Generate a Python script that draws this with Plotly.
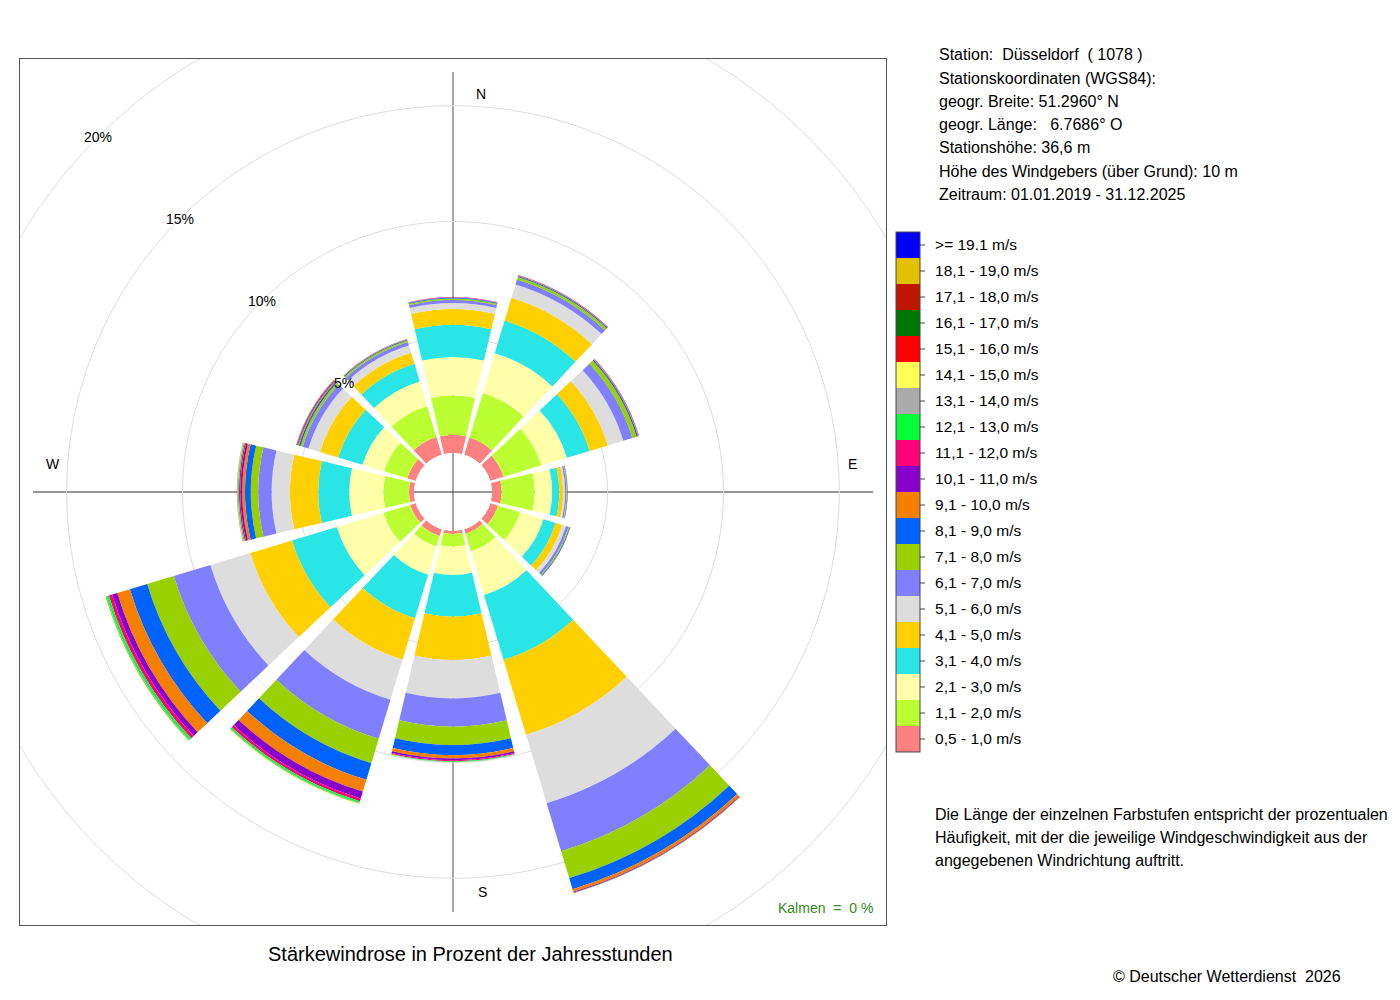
import math
import plotly.graph_objects as go

# ---------------- data ----------------
directions = ["N", "NNO", "ONO", "O", "OSO", "SSO", "S", "SSW", "WSW", "W", "WNW", "NNW"]
angles = [0, 30, 60, 90, 120, 150, 180, 210, 240, 270, 300, 330]

speed_labels = [
    "0,5 - 1,0 m/s", "1,1 - 2,0 m/s", "2,1 - 3,0 m/s", "3,1 - 4,0 m/s", "4,1 - 5,0 m/s",
    "5,1 - 6,0 m/s", "6,1 - 7,0 m/s", "7,1 - 8,0 m/s", "8,1 - 9,0 m/s", "9,1 - 10,0 m/s",
    "10,1 - 11,0 m/s", "11,1 - 12,0 m/s", "12,1 - 13,0 m/s", "13,1 - 14,0 m/s", "14,1 - 15,0 m/s",
    "15,1 - 16,0 m/s", "16,1 - 17,0 m/s", "17,1 - 18,0 m/s", "18,1 - 19,0 m/s", ">= 19.1 m/s",
]
speed_colors = [
    "#FF8080", "#BBFF33", "#FFFFAA", "#2AE5E5", "#FFD000",
    "#DDDDDD", "#8080FF", "#99D100", "#0062FF", "#F58000",
    "#8800CC", "#FF0077", "#00FF33", "#AAAAAA", "#FFFF55",
    "#FF0000", "#007700", "#C01800", "#E0C000", "#0000FF",
]

# percent of hours per speed class (lowest class first), one list per direction
n_vals   = [0.79, 1.71, 1.65, 1.39, 0.68, 0.26, 0.13, 0.06, 0.03, 0.02, 0.01, 0.005]
nno_vals = [0.78, 2.01, 1.79, 1.47, 1.03, 0.60, 0.22, 0.12, 0.04, 0.02, 0.01, 0.01]
ono_vals = [0.60, 1.71, 1.15, 1.02, 0.82, 0.70, 0.41, 0.19, 0.06, 0.03, 0.01, 0.01]
o_vals   = [0.42, 1.43, 0.75, 0.31, 0.17, 0.08, 0.06, 0.03, 0.02, 0.01]
oso_vals = [0.35, 1.00, 1.05, 0.55, 0.30, 0.17, 0.11, 0.05, 0.03, 0.01]
sso_vals = [0.20, 0.80, 1.96, 2.93, 3.38, 3.08, 2.17, 1.21, 0.50, 0.12, 0.03, 0.02, 0.01]
s_vals   = [0.13, 0.55, 1.22, 1.80, 1.87, 1.66, 1.22, 0.79, 0.44, 0.14, 0.08, 0.04, 0.03, 0.01]
ssw_vals = [0.30, 0.48, 1.27, 1.96, 1.87, 1.81, 1.76, 1.10, 0.75, 0.53, 0.31, 0.12, 0.08, 0.04, 0.03]
wsw_vals = [0.25, 1.21, 2.10, 2.02, 1.88, 1.80, 1.65, 1.20, 0.78, 0.57, 0.23, 0.15, 0.11, 0.05, 0.03]
w_vals   = [0.22, 1.11, 1.47, 1.34, 1.22, 0.79, 0.58, 0.32, 0.25, 0.12, 0.08, 0.06, 0.05, 0.02, 0.01, 0.01]
wnw_vals = [0.38, 1.05, 0.97, 1.10, 0.82, 0.52, 0.26, 0.10, 0.07, 0.05, 0.03, 0.03, 0.02]
nnw_vals = [0.80, 1.40, 1.10, 0.80, 0.50, 0.33, 0.15, 0.07, 0.04, 0.02, 0.01]

grid_pcts = [5, 10, 15, 20, 25]
grid_labels = ["5%", "10%", "15%", "20%", ""]
compass = ["N", "E", "S", "W"]

station_lines = [
    "Station:  Düsseldorf  ( 1078 )",
    "Stationskoordinaten (WGS84):",
    "geogr. Breite: 51.2960° N",
    "geogr. Länge:   6.7686° O",
    "Stationshöhe: 36,6 m",
    "Höhe des Windgebers (über Grund): 10 m",
    "Zeitraum: 01.01.2019 - 31.12.2025",
]
note_lines = [
    "Die Länge der einzelnen Farbstufen entspricht der prozentualen",
    "Häufigkeit, mit der die jeweilige Windgeschwindigkeit aus der",
    "angegebenen Windrichtung auftritt.",
]
title_text = "Stärkewindrose in Prozent der Jahresstunden"
calm_text = "Kalmen  =  0 %"
copyright_text = "© Deutscher Wetterdienst  2026"

# ---------------- layout geometry (page pixels) ----------------
OFF = 8                      # default body margin of the html page
FW, FH = 1400 - OFF, 1000 - OFF
FONT = "Liberation Sans, Arial, sans-serif"
CX, CY = 453, 492            # centre of the rose
HOLE_PX = 38.9               # radius of the empty centre
PX_PER_PCT = 23.16           # radial scale
R_MAX = 17.0                 # radial range of the polar axis
BOX_HALF = 433               # half width of the framed area
LEG_X, LEG_TOP, LEG_CELL, LEG_W = 896, 232, 26, 24

R_OUT = HOLE_PX + PX_PER_PCT * R_MAX


def fx(px):
    return (px - OFF) / FW


def fy(py):
    return 1 - (py - OFF) / FH


def rpx(p):
    return HOLE_PX + PX_PER_PCT * p


all_dirs = [n_vals, nno_vals, ono_vals, o_vals, oso_vals, sso_vals,
            s_vals, ssw_vals, wsw_vals, w_vals, wnw_vals, nnw_vals]

fig = go.Figure()

for k, (lab, col) in enumerate(zip(speed_labels, speed_colors)):
    r = [d[k] if k < len(d) else 0 for d in all_dirs]
    fig.add_trace(go.Barpolar(
        r=r, theta=angles, width=26.5, name=lab,
        marker=dict(color=col, line=dict(width=0)),
        showlegend=False, hoverinfo="skip",
    ))

# colour key as a discrete colour bar
n_cls = len(speed_colors)
cs = []
for i, c in enumerate(speed_colors):
    cs.append([i / n_cls, c])
    cs.append([(i + 1) / n_cls, c])
fig.add_trace(go.Scatter(
    x=[None], y=[None], mode="markers", showlegend=False, hoverinfo="skip",
    marker=dict(
        color=[0], cmin=0, cmax=n_cls, colorscale=cs, showscale=True,
        colorbar=dict(
            x=fx(LEG_X), xanchor="left", xpad=0,
            y=fy(LEG_TOP + LEG_CELL * n_cls / 2), yanchor="middle", ypad=0,
            len=LEG_CELL * n_cls, lenmode="pixels", thickness=LEG_W, thicknessmode="pixels",
            outlinewidth=1, outlinecolor="#444",
            tickmode="array", tickvals=[i + 0.5 for i in range(n_cls)], ticktext=speed_labels,
            ticks="outside", ticklen=12, tickcolor="rgba(0,0,0,0)",
            tickfont=dict(size=15.5, color="black", family=FONT),
        ),
    ),
))

shapes = []
# visible short ticks of the colour key
for j in range(n_cls):
    yc = LEG_TOP + LEG_CELL * (j + 0.5)
    shapes.append(dict(type="line", xref="paper", yref="paper",
                       x0=fx(LEG_X + LEG_W), x1=fx(LEG_X + LEG_W + 5), y0=fy(yc), y1=fy(yc),
                       line=dict(color="#444", width=1)))
# outer grid circles (clipped by the frame)
for p in grid_pcts[3:]:
    rr = rpx(p)
    shapes.append(dict(type="circle", xref="x", yref="y", x0=-rr, x1=rr, y0=-rr, y1=rr,
                       line=dict(color="#DDDDDD", width=1), layer="below"))
# cross hair
shapes.append(dict(type="line", xref="x", yref="y", x0=0, x1=0, y0=-420, y1=420,
                   line=dict(color="#888888", width=1.5), layer="below"))
shapes.append(dict(type="line", xref="x", yref="y", x0=-420, x1=420, y0=0, y1=0,
                   line=dict(color="#333333", width=1.2), layer="below"))

annotations = []
for p, lab in zip(grid_pcts, grid_labels):
    if not lab:
        continue
    rr = rpx(p)
    annotations.append(dict(x=-rr * math.cos(math.radians(45)), y=rr * math.sin(math.radians(45)),
                            xref="x", yref="y", text=lab, showarrow=False,
                            font=dict(size=14, color="black", family=FONT)))
comp_pos = {"N": (28, 398), "E": (399, 28), "S": (29, -400), "W": (-400, 28)}
for c in compass:
    annotations.append(dict(x=comp_pos[c][0], y=comp_pos[c][1], xref="x", yref="y", text=c,
                            showarrow=False, font=dict(size=14, color="black", family=FONT)))
annotations.append(dict(x=875 - CX, y=-(908 - CY), xref="x", yref="y", text=calm_text,
                        showarrow=False, xanchor="right", yanchor="middle",
                        font=dict(size=14, color="#2E8B22", family=FONT)))
annotations.append(dict(x=fx(470), y=fy(954), xref="paper", yref="paper", text=title_text,
                        showarrow=False, xanchor="center", yanchor="middle",
                        font=dict(size=20, color="black", family=FONT)))
for i, line in enumerate(station_lines):
    annotations.append(dict(x=fx(937), y=fy(55 + 23.2 * i), xref="paper", yref="paper",
                            text=line, showarrow=False, xanchor="left", yanchor="middle",
                            font=dict(size=16, color="black", family=FONT)))
for i, line in enumerate(note_lines):
    annotations.append(dict(x=fx(933), y=fy(814 + 23 * i), xref="paper", yref="paper",
                            text=line, showarrow=False, xanchor="left", yanchor="middle",
                            font=dict(size=16, color="black", family=FONT)))
annotations.append(dict(x=fx(1343), y=fy(976), xref="paper", yref="paper",
                        text=copyright_text, showarrow=False, xanchor="right", yanchor="middle",
                        font=dict(size=16, color="black", family=FONT)))

fig.update_layout(
    width=FW, height=FH, margin=dict(l=0, r=0, t=0, b=0),
    paper_bgcolor="white", plot_bgcolor="white",
    showlegend=False, hovermode=False,
    font=dict(family=FONT, color="black"),
    xaxis=dict(domain=[fx(CX - BOX_HALF), fx(CX + BOX_HALF)],
               range=[-BOX_HALF, BOX_HALF], showgrid=False, zeroline=False,
               showticklabels=False, ticks="", showline=True, mirror=True,
               linecolor="#555555", linewidth=1, fixedrange=True),
    yaxis=dict(domain=[fy(CY + BOX_HALF), fy(CY - BOX_HALF)],
               range=[-BOX_HALF, BOX_HALF], showgrid=False, zeroline=False,
               showticklabels=False, ticks="", showline=True, mirror=True,
               linecolor="#555555", linewidth=1, fixedrange=True),
    polar=dict(
        domain=dict(x=[fx(CX - R_OUT), fx(CX + R_OUT)],
                    y=[fy(CY + R_OUT), fy(CY - R_OUT)]),
        hole=HOLE_PX / R_OUT,
        bgcolor="rgba(0,0,0,0)",
        barmode="stack",
        radialaxis=dict(range=[0, R_MAX], tickmode="array", tickvals=grid_pcts[:3],
                        showticklabels=False, ticks="", showline=False,
                        gridcolor="#DDDDDD", gridwidth=1),
        angularaxis=dict(rotation=90, direction="clockwise", showgrid=False,
                         showticklabels=False, ticks="", showline=False),
    ),
    shapes=shapes, annotations=annotations,
)

fig.write_html("out.html")
